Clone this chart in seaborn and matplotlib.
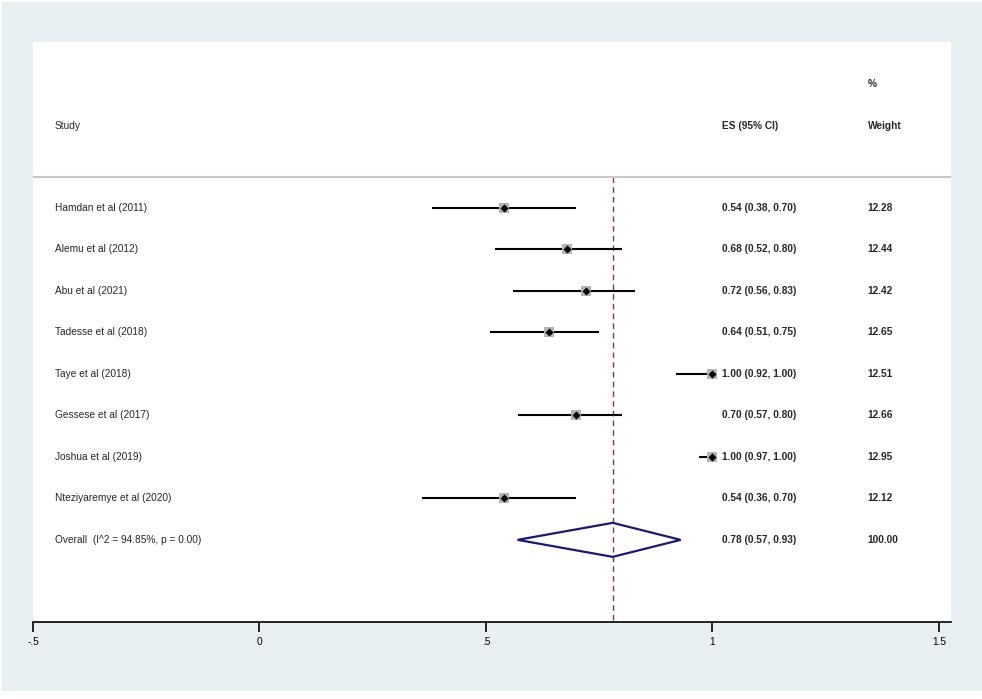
import numpy as np
import pandas as pd
import matplotlib
matplotlib.use('Agg')
import matplotlib.pyplot as plt
import seaborn as sns
from matplotlib.patches import Rectangle, Polygon

BAND  = '#e8eff2'
BOXC  = '#b4b4b4'
REFC  = '#993333'
NAVY  = '#1a1a6e'
SEP   = '#c8c8c8'

# ── Datos ─────────────────────────────────────────────────────────────────────
studies = ['Hamdan et al (2011)', 'Alemu et al (2012)', 'Abu et al (2021)',
           'Tadesse et al (2018)', 'Taye et al (2018)', 'Gessese et al (2017)',
           'Joshua et al (2019)', 'Nteziyaremye et al (2020)']
es      = [0.54, 0.68, 0.72, 0.64, 1.00, 0.70, 1.00, 0.54]
lo      = [0.38, 0.52, 0.56, 0.51, 0.92, 0.57, 0.97, 0.36]
hi      = [0.70, 0.80, 0.83, 0.75, 1.00, 0.80, 1.00, 0.70]
weights = [12.28, 12.44, 12.42, 12.65, 12.51, 12.66, 12.95, 12.12]

overall_label = 'Overall  (I^2 = 94.85%, p = 0.00)'
overall_es, overall_lo, overall_hi = 0.78, 0.57, 0.93

xticks      = [-0.5, 0, 0.5, 1, 1.5]
xticklabels = ['-.5', '0', '.5', '1', '1.5']

df = pd.DataFrame({'study': studies, 'es': es, 'lo': lo, 'hi': hi, 'w': weights})
df['row'] = np.arange(1, len(df) + 1)
row_overall = len(df) + 1

sns.set_theme(style='white')
plt.rcParams['font.family'] = ['Liberation Sans', 'DejaVu Sans']
FS = 7.3

W, H = 982, 699
fig = plt.figure(figsize=(W / 100, H / 100), dpi=100, facecolor='white')
fig.patches.append(Rectangle((2 / W, 8 / H), 1 - 2 / W, (697 - 8) / H,
                             transform=fig.transFigure, facecolor=BAND,
                             edgecolor='none', zorder=-5))
ax = fig.add_axes([33 / W, (H - 622) / H, (951 - 33) / W, (622 - 42) / H])
ax.set_facecolor('white')

# intervalos
ax.hlines(df['row'], df['lo'], df['hi'], color='black', linewidth=1.5, zorder=2)
# cajas de peso + estimación puntual
sns.scatterplot(data=df, x='es', y='row', marker='s', s=42, color=BOXC,
                linewidth=0, ax=ax, zorder=3, legend=False)
sns.scatterplot(data=df, x='es', y='row', marker='D', s=17, color='black',
                linewidth=0, ax=ax, zorder=4, legend=False)

# diamante global
dh = 0.41
ax.add_patch(Polygon([[overall_lo, row_overall], [overall_es, row_overall - dh],
                      [overall_hi, row_overall], [overall_es, row_overall + dh]],
                     closed=True, facecolor='none', edgecolor=NAVY,
                     linewidth=1.6, zorder=3))

# línea de referencia
ax.vlines(overall_es, 0.25, 11.2, color=REFC, linewidth=1.0,
          linestyles=(0, (4, 3)), zorder=1)
ax.axhline(0.25, color=SEP, linewidth=1.5, zorder=1)

# textos
x_study, x_es, x_w = -0.452, 1.021, 1.343
ax.text(x_w, -1.99, '%', fontsize=FS, fontweight='bold', va='center')
ax.text(x_study, -0.98, 'Study', fontsize=FS, va='center')
ax.text(x_es, -0.98, 'ES (95% CI)', fontsize=FS, fontweight='bold', va='center')
ax.text(x_w, -0.98, 'Weight', fontsize=FS, fontweight='bold', va='center')
for _, r in df.iterrows():
    ax.text(x_study, r['row'], r['study'], fontsize=FS, va='center')
    ax.text(x_es, r['row'], f"{r['es']:.2f} ({r['lo']:.2f}, {r['hi']:.2f})",
            fontsize=FS, fontweight='bold', va='center')
    ax.text(x_w, r['row'], f"{r['w']:.2f}", fontsize=FS, fontweight='bold', va='center')
ax.text(x_study, row_overall, overall_label, fontsize=FS, va='center')
ax.text(x_es, row_overall, f"{overall_es:.2f} ({overall_lo:.2f}, {overall_hi:.2f})",
        fontsize=FS, fontweight='bold', va='center')
ax.text(x_w, row_overall, '100.00', fontsize=FS, fontweight='bold', va='center')

ax.set_xlim(-0.5, 1.527)
ax.set_ylim(10.98, -3)
ax.set_xticks(xticks)
ax.set_xticklabels(xticklabels, fontsize=FS)
ax.set_yticks([])
ax.set_xlabel('')
ax.set_ylabel('')
for s in ['top', 'right', 'left']:
    ax.spines[s].set_visible(False)
ax.spines['bottom'].set_color('black')
ax.spines['bottom'].set_linewidth(1.2)
ax.tick_params(axis='x', bottom=True, direction='out', length=7, width=1.2,
               color='black', pad=4, labelcolor='black')

fig.savefig('out.png', dpi=100, facecolor='white')
